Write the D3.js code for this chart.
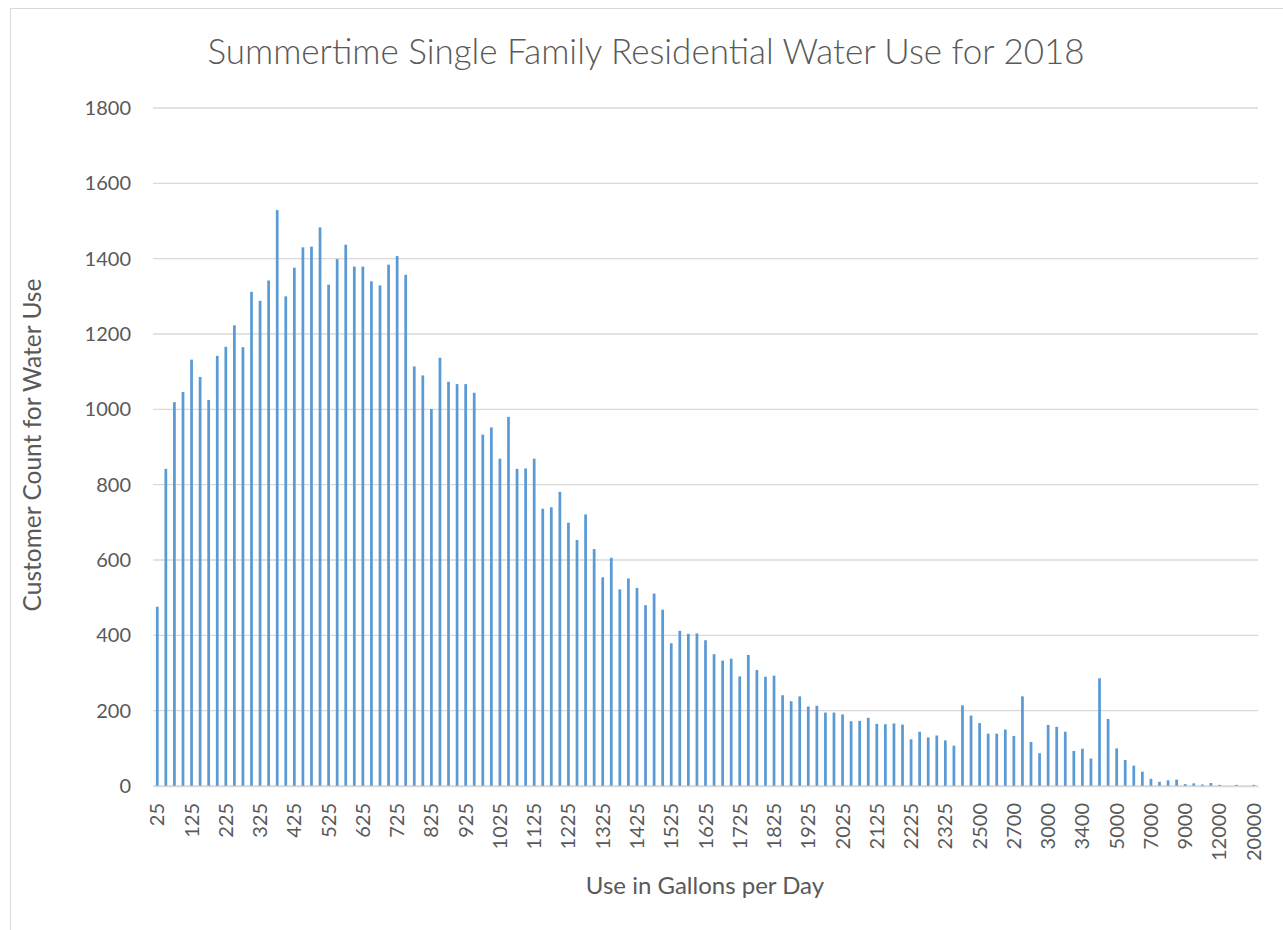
<!DOCTYPE html>
<html>
<head>
<meta charset="utf-8">
<script src="https://cdn.jsdelivr.net/npm/d3@7"></script>
<style>
  body { margin: 0; background: #fff; }
  text { font-family: Lato, "Open Sans", sans-serif; fill: #595959; }
</style>
</head>
<body>
<div id="chart"></div>
<script>
// gallons-per-day bins (only every 4th shows as a label)
const categories = [
  25, 50, 75, 100, 125, 150, 175, 200, 225, 250, 275, 300, 325, 350, 375, 400,
  425, 450, 475, 500, 525, 550, 575, 600, 625, 650, 675, 700, 725, 750, 775, 800,
  825, 850, 875, 900, 925, 950, 975, 1000, 1025, 1050, 1075, 1100, 1125, 1150, 1175, 1200,
  1225, 1250, 1275, 1300, 1325, 1350, 1375, 1400, 1425, 1450, 1475, 1500, 1525, 1550, 1575, 1600,
  1625, 1650, 1675, 1700, 1725, 1750, 1775, 1800, 1825, 1850, 1875, 1900, 1925, 1950, 1975, 2000,
  2025, 2050, 2075, 2100, 2125, 2150, 2175, 2200, 2225, 2250, 2275, 2300, 2325,
  2350, 2400, 2450, 2500, 2550, 2600, 2650, 2700, 2775, 2850, 2925, 3000,
  3100, 3200, 3300, 3400, 3800, 4200, 4600, 5000, 5500, 6000, 6500, 7000,
  7500, 8000, 8500, 9000, 9750, 10500, 11250, 12000, 14000, 16000, 18000, 20000
];

const counts = [
  476, 842, 1019, 1046, 1132, 1086, 1025, 1142, 1166, 1223, 1165, 1312, 1288, 1342, 1529, 1300,
  1376, 1430, 1432, 1483, 1331, 1399, 1437, 1379, 1379, 1340, 1329, 1384, 1407, 1357, 1114, 1090,
  1001, 1137, 1073, 1067, 1067, 1044, 933, 952, 869, 980, 842, 843, 869, 736, 740, 781,
  699, 653, 721, 629, 554, 606, 522, 551, 526, 480, 511, 468, 379, 412, 404, 405,
  387, 350, 333, 338, 291, 348, 308, 290, 293, 241, 225, 238, 211, 213, 195, 195,
  190, 172, 173, 181, 165, 164, 166, 163, 124, 144, 129, 134, 121,
  107, 214, 187, 167, 139, 139, 150, 133, 238, 117, 87, 162,
  157, 144, 93, 99, 73, 286, 178, 100, 69, 54, 38, 19,
  11, 15, 17, 5, 7, 4, 8, 3, 0, 3, 0, 3
];

const yTicks = [0, 200, 400, 600, 800, 1000, 1200, 1400, 1600, 1800];

const width = 1283, height = 930;
const plot = { left: 153, right: 1258, top: 108, bottom: 786 };

const svg = d3.select("#chart")
  .append("svg")
  .attr("width", width)
  .attr("height", height);

// chart frame
svg.append("rect")
  .attr("x", 10.5).attr("y", 8.5)
  .attr("width", 1300).attr("height", 940)
  .attr("fill", "none")
  .attr("stroke", "#d9d9d9");

const xScale = d3.scaleBand()
  .domain(categories.map(String))
  .range([plot.left, plot.right])
  .paddingInner(0.68)
  .paddingOuter(0.34);

const yScale = d3.scaleLinear().domain([0, 1800]).range([plot.bottom, plot.top]);

// gridlines
svg.append("g")
  .selectAll("line")
  .data(yTicks)
  .join("line")
  .attr("x1", plot.left).attr("x2", plot.right)
  .attr("y1", d => yScale(d)).attr("y2", d => yScale(d))
  .attr("stroke", "#d9d9d9")
  .attr("stroke-width", 1.3);

// y tick labels
const yAxis = d3.axisLeft(yScale).tickValues(yTicks).tickSize(0).tickPadding(22).tickFormat(d3.format("d"));
const gy = svg.append("g").attr("transform", `translate(${plot.left},0)`).call(yAxis);
gy.select(".domain").remove();
gy.selectAll("text").style("font-size", "20px").style("fill", "#595959");

// bars
svg.append("g")
  .selectAll("rect")
  .data(counts)
  .join("rect")
  .attr("x", (d, i) => xScale(String(categories[i])))
  .attr("width", xScale.bandwidth())
  .attr("y", d => yScale(d))
  .attr("height", d => plot.bottom - yScale(d))
  .attr("fill", "#5b9bd5");

// x axis
const xAxis = d3.axisBottom(xScale)
  .tickValues(categories.filter((d, i) => i % 4 === 0).map(String))
  .tickSize(0);
const gx = svg.append("g").attr("transform", `translate(0,${plot.bottom})`).call(xAxis);
gx.select(".domain").attr("stroke", "#d9d9d9").attr("stroke-width", 1.3);
gx.selectAll("text")
  .attr("transform", "rotate(-90)")
  .attr("x", -17)
  .attr("y", 0)
  .attr("dy", "0.35em")
  .attr("text-anchor", "end")
  .style("font-size", "20px")
  .style("fill", "#595959");

// titles
svg.append("text")
  .attr("x", 646).attr("y", 64)
  .attr("text-anchor", "middle")
  .style("font-size", "35px")
  .style("font-weight", 300)
  .text("Summertime Single Family Residential Water Use for 2018");

svg.append("text")
  .attr("x", 705).attr("y", 894)
  .attr("text-anchor", "middle")
  .style("font-size", "24px")
  .text("Use in Gallons per Day");

svg.append("text")
  .attr("transform", "translate(41,445) rotate(-90)")
  .attr("text-anchor", "middle")
  .style("font-size", "24.5px")
  .text("Customer Count for Water Use");
</script>
</body>
</html>
